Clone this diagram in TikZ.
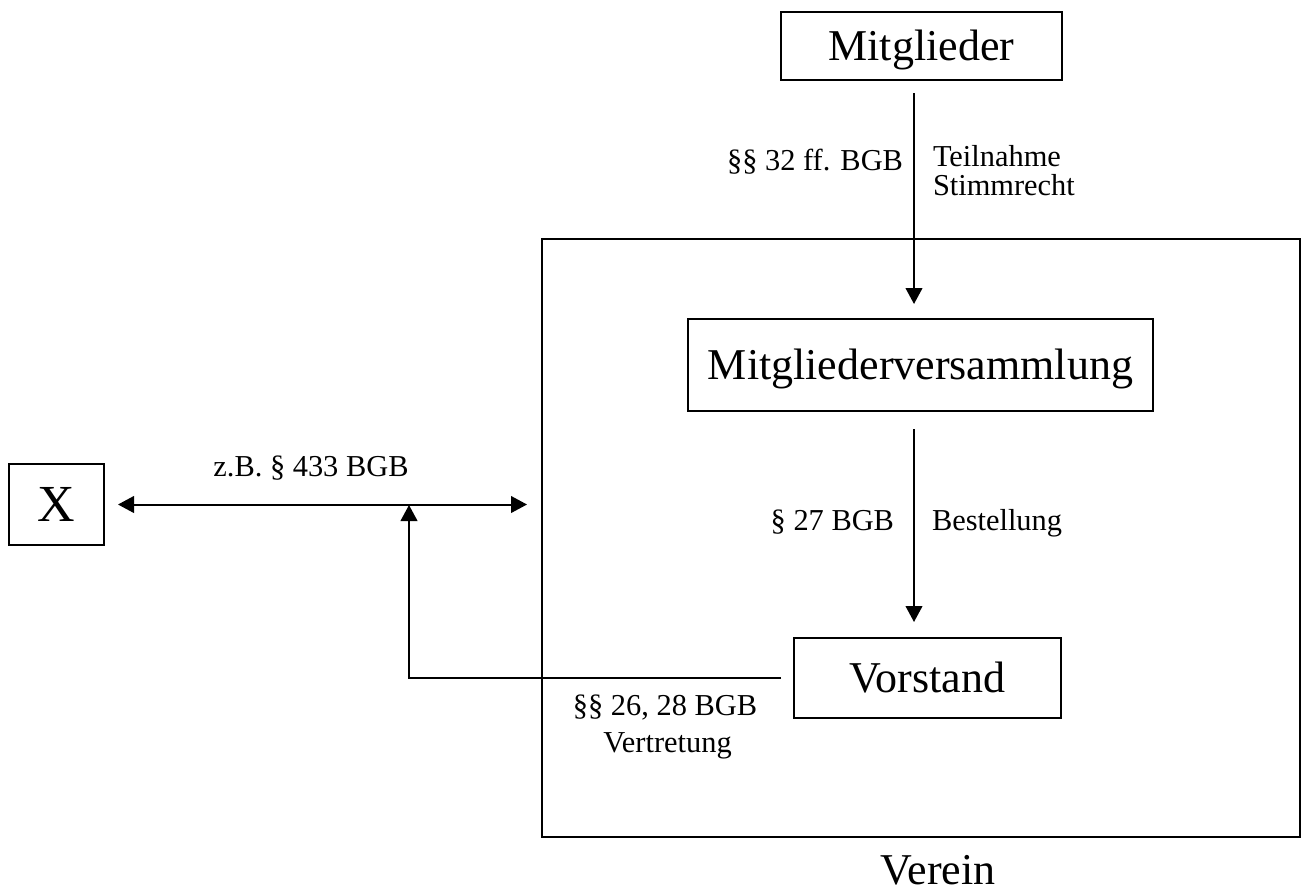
\documentclass[tikz,border=0pt]{standalone}
\usepackage{fontspec}
\setmainfont{Liberation Serif}
\usetikzlibrary{arrows.meta}
\begin{document}
\begin{tikzpicture}[x=0.75pt,y=-0.75pt,
  line width=1.5pt,
  box/.style={draw, line width=1.5pt, inner sep=0pt, font=\fontsize{33}{38}\selectfont, text height=21.8pt, text depth=0pt},
  lbl/.style={inner sep=0pt, font=\fontsize{22.8}{27}\selectfont},
  conn/.style={line width=1.5pt, -{Triangle[length=12pt,width=12.5pt]}},
  dconn/.style={line width=1.5pt, {Triangle[length=12pt,width=12.5pt]}-{Triangle[length=12pt,width=12.5pt]}}]
\useasboundingbox (0,0) rectangle (1302,893);
% boxes
\node[draw, line width=1.5pt, inner sep=0pt, minimum width=568.5pt, minimum height=448.5pt] (vbox) at (921,538) {};
\node[box, minimum width=210.75pt, minimum height=51pt] (mg) at (921.5,46) {Mitglieder};
\node[box, minimum width=348.75pt, minimum height=69pt] (mv) at (920.5,365) {Mitgliederversammlung};
\node[box, minimum width=200.25pt, minimum height=60pt] (vs) at (927.5,678) {Vorstand};
\node[box, minimum width=71.25pt, minimum height=60.75pt, font=\fontsize{39}{44}\selectfont, text height=25.8pt] (xb) at (56.5,504.5) {X};
\node[inner sep=0pt, anchor=base, font=\fontsize{33}{38}\selectfont] (vlab) at (938,884) {Verein};
% connectors
\draw[conn, shorten <=9pt, shorten >=10.5pt] (mg.south -| 914,0) -- (mv.north -| 914,0);
\draw[conn, shorten <=12.75pt, shorten >=11.25pt] (mv.south -| 914,0) -- (vs.north -| 914,0);
\coordinate (mid) at (409,505);
\draw[dconn, shorten <=9.75pt, shorten >=10.5pt] (xb.east) -- (vbox.west |- xb.east);
\draw[conn, shorten <=9pt] (vs.west) -| (mid);
% labels
\node[lbl, anchor=base east] (l1) at (904,170) {§§ 32 ff. BGB};
\node[lbl, anchor=base west] (l2) at (932,166) {Teilnahme};
\node[lbl, anchor=base west] (l3) at (932,195) {Stimmrecht};
\node[lbl, anchor=base east] (l4) at (895,530) {§ 27 BGB};
\node[lbl, anchor=base west] (l5) at (931,530) {Bestellung};
\node[lbl, anchor=base] (l6) at (665,715) {§§ 26, 28 BGB};
\node[lbl, anchor=base] (l7) at (667.5,752) {Vertretung};
\node[lbl, anchor=base] (l8) at (311,476) {z.B. § 433 BGB};
\end{tikzpicture}
\end{document}
